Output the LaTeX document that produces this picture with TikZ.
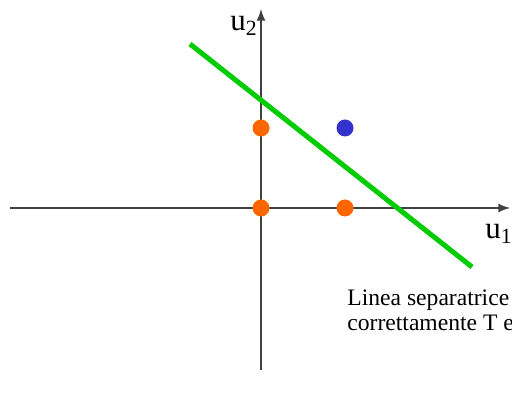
\documentclass[tikz,border=0pt]{standalone}
\usepackage{fontspec}
\setmainfont{Liberation Serif}
\usepackage{xcolor}
\usetikzlibrary{arrows}
\usetikzlibrary{math}
\definecolor{myorange}{RGB}{255,102,0}
\definecolor{myblue}{RGB}{51,51,204}
\definecolor{mygreen}{RGB}{0,204,0}
\definecolor{axisgray}{RGB}{64,64,64}

\begin{document}
\begin{tikzpicture}[x=0.5pt,y=-0.5pt]
\tikzmath{
\ox=261;
\oy=208;
\d=84;
\r=8.5;
}

\useasboundingbox (0,0) rectangle (512,399);

\draw[color=axisgray, line width=1pt,-latex] (10,\oy) -- (510,\oy);
\draw[color=axisgray, line width=1pt,-latex] (\ox,370) -- (\ox,9);
\node[anchor=base west, inner sep=0, font=\fontsize{15.5}{17}\selectfont] (labu2) at (230,31) {u\textsubscript{2}};
\node[anchor=base west, inner sep=0, font=\fontsize{15.5}{17}\selectfont] (labu1) at (485,239) {u\textsubscript{1}};

\draw[color=mygreen, line width=2.5pt] (190,44) -- (472,267);

\fill[color=myorange] (\ox,\oy-\d+4) circle (\r);
\fill[color=myorange] (\ox,\oy) circle (\r);
\fill[color=myorange] (\ox+\d,\oy) circle (\r);
\fill[color=myblue] (\ox+\d,\oy-\d+4) circle (\r);

\node[anchor=base west, inner sep=0, align=left, font=\fontsize{11.8}{12.5}\selectfont] (note) at (347,331) {Linea separatrice\\correttamente T e};
\end{tikzpicture}
\end{document}
